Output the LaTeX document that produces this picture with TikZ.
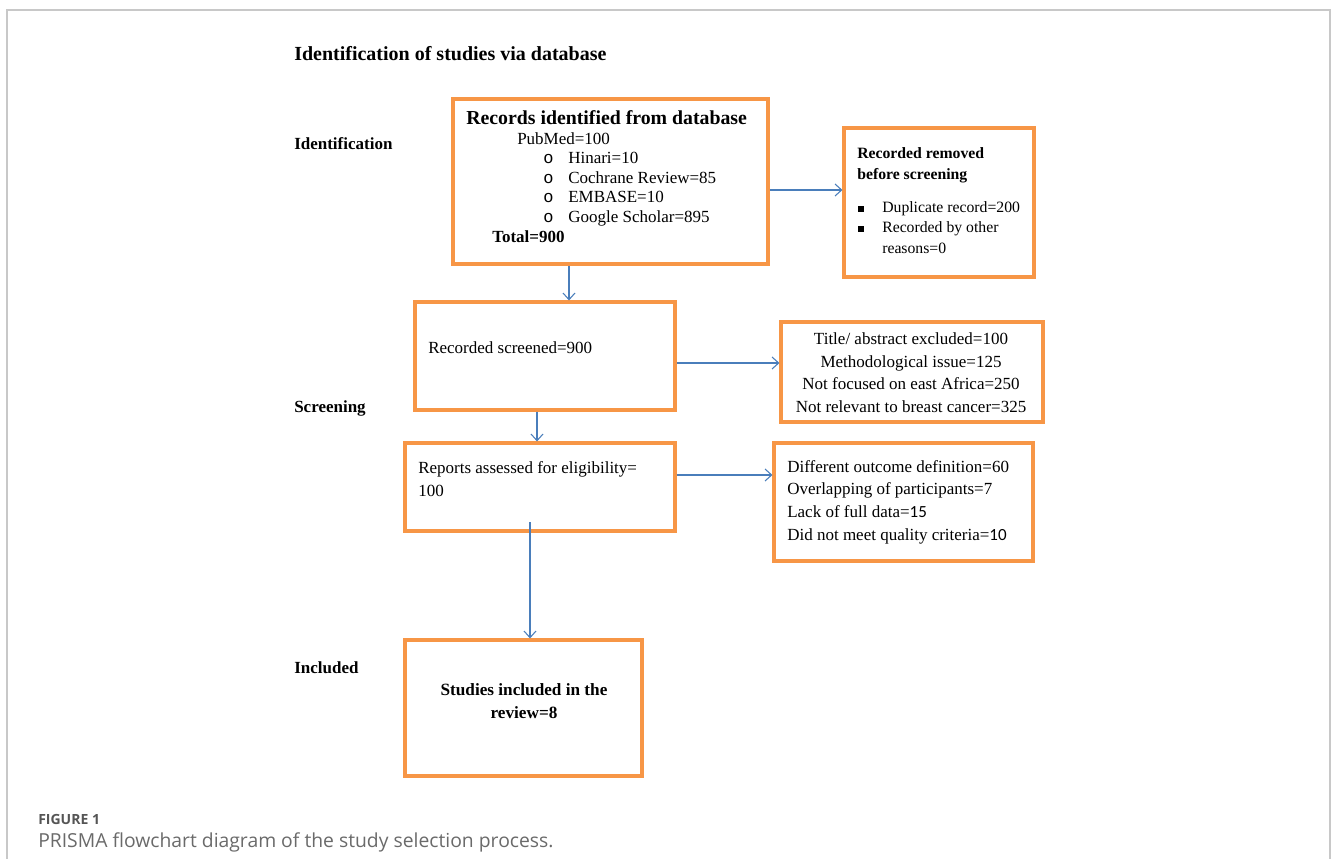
\documentclass[tikz,border=0pt]{standalone}
\usepackage{fontspec}
\setmainfont{Liberation Serif}
\newfontfamily\capfont{Open Sans}
\newfontfamily\bulletfont{Liberation Mono}
\newfontfamily\calfont{Carlito}
\usetikzlibrary{arrows.meta,fit}
\definecolor{boxorange}{HTML}{F79646}
\definecolor{arrowblue}{HTML}{4A7EBB}
\definecolor{framegray}{HTML}{C8C8C8}
\definecolor{capgray}{HTML}{6A6A6A}
\definecolor{capdark}{HTML}{555555}
\begin{document}
\begin{tikzpicture}[x=0.75pt,y=-0.75pt,
  box/.style={draw=boxorange, line width=2.3pt, inner sep=0pt},
  conn/.style={draw=arrowblue, line width=0.8pt, -{Straight Barb[length=5pt,width=9pt,line width=0.8pt]}},
  txt/.style={anchor=base west, inner sep=0pt, font=\fontsize{12.75}{15}\selectfont},
  ctxt/.style={anchor=base, inner sep=0pt, font=\fontsize{12.75}{15}\selectfont},
  btxt/.style={anchor=base west, inner sep=0pt, font=\bfseries\fontsize{12.75}{15}\selectfont},
  stxt/.style={anchor=base west, inner sep=0pt, font=\fontsize{11.8}{14}\selectfont},
  sbtxt/.style={anchor=base west, inner sep=0pt, font=\bfseries\fontsize{11.8}{14}\selectfont}
]
\useasboundingbox (0,0) rectangle (1331,859);
% frame
\draw[framegray, line width=0.8pt] (7,859) -- (7,10) -- (1330,10) -- (1330,859);

% title and stage labels
\node[anchor=base west, inner sep=0pt, font=\bfseries\fontsize{15}{18}\selectfont] (title) at (294,61) {Identification of studies via database};
\node[btxt] (lid) at (294,150) {Identification};
\node[btxt] (lsc) at (294,412) {Screening};
\node[btxt] (lin) at (294,673) {Included};

% boxes
\node[box, fit={(453,99) (768,264)}] (b1) {};
\node[box, fit={(844,128) (1034,277)}] (b2) {};
\node[box, fit={(415,302) (675,410)}] (b3) {};
\node[box, fit={(781,322) (1043,422)}] (b4) {};
\node[box, fit={(405,443) (675,531)}] (b5) {};
\node[box, fit={(774,443) (1033,561)}] (b6) {};
\node[box, fit={(405,640) (642,776)}] (b7) {};

% box 1 text
\node[anchor=base west, inner sep=0pt, font=\bfseries\fontsize{14.85}{17}\selectfont] (t1a) at (466,125) {Records identified from database};
\node[txt] (t1b) at (517,145) {PubMed=100};
\node[txt] (o1) at (543,164) {\bulletfont o};
\node[txt] (o2) at (543,184) {\bulletfont o};
\node[txt] (o3) at (543,203) {\bulletfont o};
\node[txt] (o4) at (543,223) {\bulletfont o};
\node[txt] (t1c) at (568,164) {Hinari=10};
\node[txt] (t1d) at (568,184) {Cochrane Review=85};
\node[txt] (t1e) at (568,203) {EMBASE=10};
\node[txt] (t1f) at (568,223) {Google Scholar=895};
\node[btxt] (t1g) at (492,243) {Total=900};

% box 2 text
\node[sbtxt] (t2a) at (857,159) {Recorded removed};
\node[sbtxt] (t2b) at (857,180) {before screening};
\node[anchor=center, fill=black, inner sep=0pt, minimum size=4.2pt] (s1) at (861,209) {};
\node[anchor=center, fill=black, inner sep=0pt, minimum size=4.2pt] (s2) at (861,229) {};
\node[stxt] (t2c) at (882,213) {Duplicate record=200};
\node[stxt] (t2d) at (882,233) {Recorded by other};
\node[stxt] (t2e) at (882,254) {reasons=0};

% box 3 text
\node[txt] (t3) at (428,353) {Recorded screened=900};

% box 4 text
\node[ctxt] (t4a) at (911,344) {Title/ abstract excluded=100};
\node[ctxt] (t4b) at (911,367) {Methodological issue=125};
\node[ctxt] (t4c) at (911,389) {Not focused on east Africa=250};
\node[ctxt] (t4d) at (911,412) {Not relevant to breast cancer=325};

% box 5 text
\node[txt] (t5a) at (418,473) {Reports assessed for eligibility=};
\node[txt] (t5b) at (418,496) {100};

% box 6 text
\node[txt] (t6a) at (787,472) {Different outcome definition=60};
\node[txt] (t6b) at (787,494) {Overlapping of participants=7};
\node[txt] (t6c) at (787,517) {Lack of full data={\calfont 15}};
\node[txt] (t6d) at (787,540) {Did not meet quality criteria={\calfont 10}};

% box 7 text
\node[anchor=base, inner sep=0pt, font=\bfseries\fontsize{12.9}{15}\selectfont] (t7a) at (524,695) {Studies included in the};
\node[anchor=base, inner sep=0pt, font=\bfseries\fontsize{12.9}{15}\selectfont] (t7b) at (524,718) {review=8};

% connectors
\draw[conn] (b1.east |- 0,190) -- (b2.west |- 0,190);
\draw[conn] (b1.south -| 569,0) -- (b3.north -| 569,0);
\draw[conn] (b3.east |- 0,363) -- (b4.west |- 0,363);
\draw[conn] (b3.south -| 537,0) -- (b5.north -| 537,0);
\draw[conn] (b5.east |- 0,475) -- (b6.west |- 0,475);
\coordinate (c5) at (530,522);
\draw[conn] (c5) -- (b7.north -| c5);

% caption
\node[anchor=base west, inner sep=0pt, text=capdark, font=\capfont\bfseries\fontsize{10.5}{12}\selectfont] (cap1) at (38,824) {FIGURE 1};
\node[anchor=base west, inner sep=0pt, text=capgray, font=\capfont\fontsize{14.5}{17}\selectfont] (cap2) at (38,847) {PRISMA flowchart diagram of the study selection process.};
\end{tikzpicture}
\end{document}
